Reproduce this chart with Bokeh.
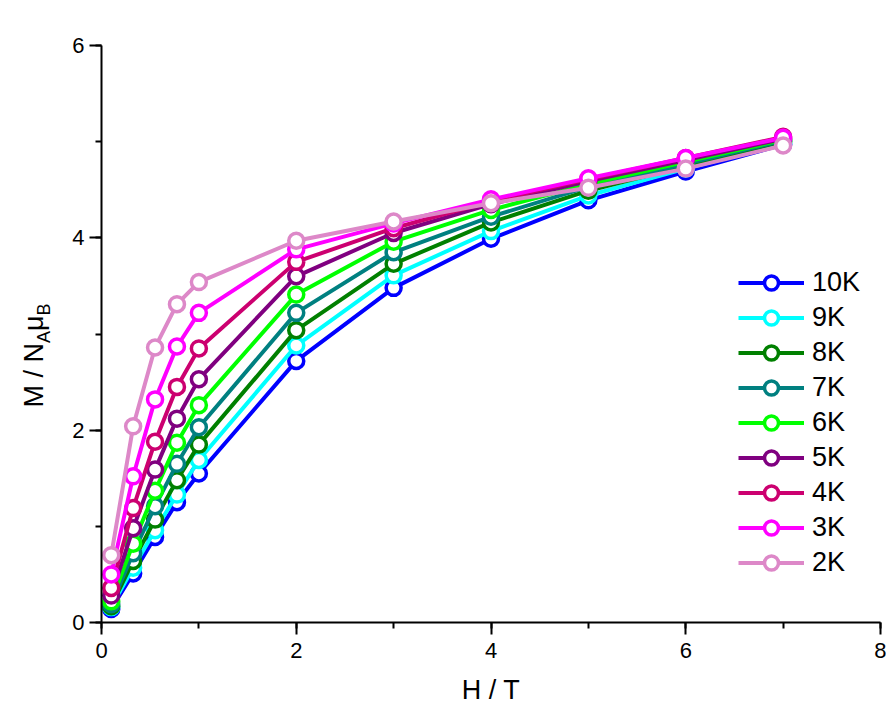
import math
from bokeh.plotting import figure
from bokeh.models import SingleIntervalTicker, Range1d, Legend
from bokeh.layouts import row
from bokeh.core.properties import value
from bokeh.embed import file_html
from bokeh.resources import INLINE

# Field values (T)
H = [0.1, 0.325, 0.55, 0.775, 1.0, 2, 3, 4, 5, 6, 7]

labels = ["10K", "9K", "8K", "7K", "6K", "5K", "4K", "3K", "2K"]
m_10K = [0.14, 0.51, 0.89, 1.25, 1.55, 2.72, 3.48, 3.99, 4.39, 4.69, 4.97]
m_9K = [0.16, 0.57, 0.96, 1.33, 1.69, 2.88, 3.61, 4.07, 4.44, 4.72, 4.98]
m_8K = [0.17, 0.64, 1.07, 1.48, 1.85, 3.04, 3.73, 4.16, 4.49, 4.75, 5.00]
m_7K = [0.19, 0.72, 1.21, 1.65, 2.03, 3.22, 3.85, 4.22, 4.53, 4.77, 5.01]
m_6K = [0.22, 0.82, 1.37, 1.87, 2.26, 3.41, 3.96, 4.29, 4.56, 4.79, 5.02]
m_5K = [0.28, 0.98, 1.59, 2.12, 2.53, 3.60, 4.05, 4.35, 4.59, 4.81, 5.03]
m_4K = [0.36, 1.19, 1.88, 2.45, 2.85, 3.75, 4.10, 4.38, 4.61, 4.83, 5.05]
m_3K = [0.50, 1.52, 2.32, 2.87, 3.22, 3.88, 4.15, 4.40, 4.62, 4.83, 5.04]
m_2K = [0.70, 2.04, 2.86, 3.31, 3.54, 3.97, 4.17, 4.36, 4.52, 4.72, 4.96]
series = [m_10K, m_9K, m_8K, m_7K, m_6K, m_5K, m_4K, m_3K, m_2K]
colors = ["#0000FF", "#00FFFF", "#008000", "#008080", "#00FF00",
          "#800080", "#CC0070", "#FF00FF", "#DD88C8"]

FONT = "Liberation Sans"
TITLE_W = 60
TOP, BOTTOM = 45, 100

p = figure(width=886 - TITLE_W, height=722, output_backend="svg",
           toolbar_location=None,
           x_range=Range1d(0, 8), y_range=Range1d(0, 6),
           min_border_left=101 - TITLE_W, min_border_right=6,
           min_border_top=TOP, min_border_bottom=BOTTOM)
p.outline_line_color = None
p.xgrid.visible = False
p.ygrid.visible = False
p.background_fill_color = "white"
p.border_fill_color = "white"

p.xaxis.ticker = SingleIntervalTicker(interval=2, num_minor_ticks=2)
p.yaxis.ticker = SingleIntervalTicker(interval=2, num_minor_ticks=2)
for ax in (p.xaxis, p.yaxis):
    ax.axis_line_width = 2
    ax.axis_line_color = "black"
    ax.major_tick_line_width = 2
    ax.minor_tick_line_width = 2
    ax.major_tick_out = 12
    ax.major_tick_in = 0
    ax.minor_tick_out = 6
    ax.minor_tick_in = 0
    ax.major_label_text_font = FONT
    ax.major_label_text_font_size = "22px"
    ax.major_label_text_color = "black"

p.xaxis.major_label_standoff = 8
p.yaxis.major_label_standoff = 5
p.xaxis.axis_label = "H / T"
p.xaxis.axis_label_text_font = FONT
p.xaxis.axis_label_text_font_size = "27px"
p.xaxis.axis_label_text_font_style = "normal"
p.xaxis.axis_label_text_color = "black"
p.xaxis.axis_label_standoff = 14

items = []
for lab, ys, c in zip(labels, series, colors):
    r1 = p.line(H, ys, line_color=c, line_width=4)
    r2 = p.scatter(H, ys, marker="circle", size=15, fill_color="white",
                   line_color=c, line_width=3.5)
    items.append((lab, [r1, r2]))

legend = Legend(items=items, location=(637, 42), padding=0, margin=0,
                spacing=0, glyph_width=66, glyph_height=35, label_height=35,
                label_standoff=8, border_line_color=None,
                background_fill_alpha=0,
                label_text_font=FONT, label_text_font_size="27px",
                label_text_color="black")
p.add_layout(legend, "center")

# Separate narrow panel holding the rotated y-axis title  M / N_A μ_B.
# The row aligns its frame with the main frame, so its y range spans
# exactly that frame (pixel-like units measured up from the bottom).
tf = figure(width=TITLE_W, height=722, output_backend="svg",
            toolbar_location=None, x_range=Range1d(0, TITLE_W),
            y_range=Range1d(BOTTOM, 722 - TOP), min_border=0,
            x_axis_type=None, y_axis_type=None)
tf.title.visible = False
tf.grid.visible = False
tf.outline_line_color = None
tf.background_fill_color = "white"
tf.border_fill_color = "white"

ang = math.pi / 2
title_parts = ["M / N", "A", "\u03bc", "B"]
part_sizes = ["27px", "18px", "27px", "18px"]
part_cx = [33.5, 43.5, 33.5, 43.5]
part_cy = [374.8, 336.5, 322.7, 309.0]   # from top of the page
for txt, fs, cx, cy in zip(title_parts, part_sizes, part_cx, part_cy):
    tf.text(x=[cx], y=[722 - cy], text=[txt], angle=ang,
            text_font=value(FONT), text_font_size=value(fs),
            text_color="black", text_align="center",
            text_baseline="middle")

layout = row(tf, p, spacing=0)
open("out.html", "w").write(file_html(layout, INLINE))
